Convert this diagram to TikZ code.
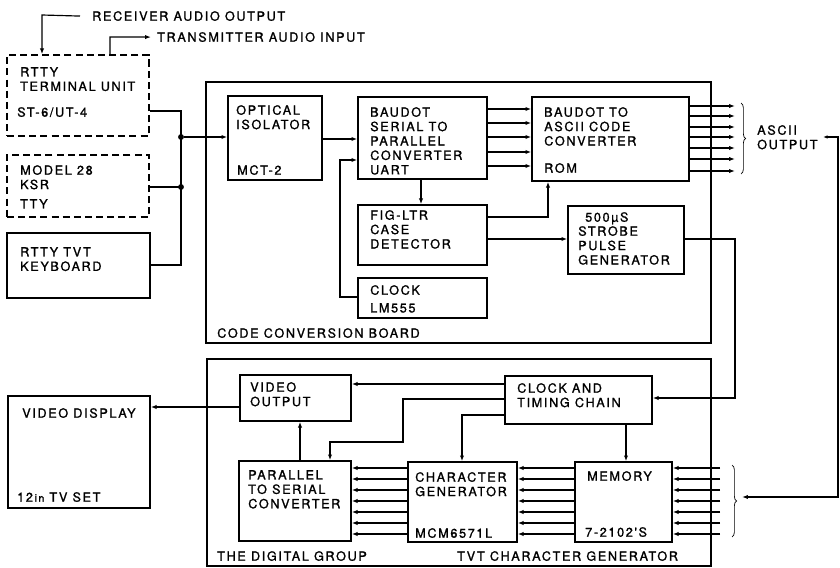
\documentclass[tikz,border=0pt]{standalone}
\usepackage{fontspec}
\newfontfamily\lettering[LetterSpace=13,FakeBold=1.2]{TeX Gyre Heros}
\usetikzlibrary{arrows.meta,fit,decorations.pathreplacing}

\begin{document}
\begin{tikzpicture}[x=0.03cm,y=-0.03cm,
    box/.style={draw=black,line width=1.1pt,inner sep=0pt},
    dbox/.style={box,dash pattern=on 6pt off 3.5pt},
    board/.style={draw=black,line width=2pt,inner sep=0pt},
    txt/.style={anchor=north west,inner sep=0pt,align=left,
                font=\lettering\fontsize{10.8}{12.3}\selectfont},
    wire/.style={line width=1pt},
    arr/.style={wire,-{Latex[length=5pt,width=3.6pt]}},
    jdot/.style={circle,fill=black,inner sep=0pt,minimum size=5pt},
    brc/.style={decorate,decoration={brace,amplitude=4pt},line width=0.6pt}]
  \useasboundingbox (0,0) rectangle (840,568);

    \node[dbox,fit={(7,55) (149,136)}] (tu) {};
    \node[dbox,fit={(7,155) (149,217)}] (m28) {};
    \node[box,fit={(7,233) (150,298)}] (kb) {};
    \node[board,fit={(206,82) (711,343)}] (ccb) {};
    \node[box,fit={(228,96) (322,180)}] (oi) {};
    \node[box,fit={(358,97) (487,179)}] (bs) {};
    \node[box,fit={(358,205) (487,265)}] (fl) {};
    \node[box,fit={(358,278) (487,318)}] (clk) {};
    \node[box,fit={(532,97) (689,181)}] (ac) {};
    \node[box,fit={(568,206) (684,274)}] (sp) {};
    \node[board,fit={(207,359) (711,566)}] (tvt) {};
    \node[box,fit={(240,375) (351,421)}] (vo) {};
    \node[box,fit={(8,396) (150,508)}] (vd) {};
    \node[box,fit={(239,461) (351,541)}] (ps) {};
    \node[box,fit={(505,376) (652,424)}] (ct) {};
    \node[box,fit={(408,462) (517,542)}] (cg) {};
    \node[box,fit={(575,462) (672,542)}] (mem) {};

    \node[txt] (rx) at (92,11) {RECEIVER AUDIO OUTPUT};
    \node[txt] (tx) at (157,32) {TRANSMITTER AUDIO INPUT};
    \node[txt] (tu-a) at (20,67) {RTTY\\TERMINAL UNIT};
    \node[txt] (tu-b) at (17,107) {ST-6/UT-4};
    \node[txt] (m28-a) at (20,165) {MODEL 28\\KSR};
    \node[txt] (m28-b) at (20,199) {TTY};
    \node[txt] (kb-a) at (20,247) {RTTY TVT\\KEYBOARD};
    \node[txt] (oi-a) at (236,105) {OPTICAL\\ISOLATOR};
    \node[txt] (oi-b) at (237,165) {MCT-2};
    \node[txt] (bs-a) at (370,107) {BAUDOT\\SERIAL TO\\PARALLEL\\CONVERTER\\UART};
    \node[txt] (fl-a) at (370,210) {FIG-LTR\\CASE\\DETECTOR};
    \node[txt] (clk-a) at (370,285) {CLOCK};
    \node[txt] (clk-b) at (370,303) {LM555};
    \node[txt] (ac-a) at (544,107) {BAUDOT TO\\ASCII CODE\\CONVERTER};
    \node[txt] (ac-b) at (544,163) {ROM};
    \node[txt] (sp-a) at (585,212) {500µS};
    \node[txt] (sp-b) at (578,226) {STROBE\\PULSE\\GENERATOR};
    \node[txt] (ccb-a) at (217,328) {CODE CONVERSION BOARD};
    \node[txt] (ao) at (757,125) {ASCII\\OUTPUT};
    \node[txt] (vo-a) at (250,382) {VIDEO\\OUTPUT};
    \node[txt] (vd-a) at (22,408) {VIDEO DISPLAY};
    \node[txt] (vd-b) at (17,492) {12{\fontsize{9}{9}\selectfont\,in} TV SET};
    \node[txt] (ps-a) at (248,470) {PARALLEL\\TO SERIAL\\CONVERTER};
    \node[txt] (ct-a) at (517,383) {CLOCK AND\\TIMING CHAIN};
    \node[txt] (cg-a) at (415,472) {CHARACTER\\GENERATOR};
    \node[txt] (cg-b) at (415,528) {MCM6571L};
    \node[txt] (mem-a) at (587,471) {MEMORY};
    \node[txt] (mem-b) at (585,527) {7-2102'S};
    \node[txt] (tvt-a) at (217,551) {THE DIGITAL GROUP};
    \node[txt] (tvt-b) at (457,551) {TVT CHARACTER GENERATOR};

    \draw[arr] ([shift={(-12,0)}]rx.west) -- (42,15) -- (tu.north -| 42,0);
    \draw[arr] (tu.north -| 110,0) -- (110,37) -- ([shift={(-6,0)}]tx.west);
    \draw[wire] (tu.east |- 0,111) -- (181,111) -- (181,265) -- (kb.east |- 0,265);
    \draw[wire] (m28.east |- 0,187) -- (181,187);
    \node[jdot] (j1) at (181,137) {};
    \node[jdot] (j2) at (181,187) {};
    \draw[arr] (j1) -- (oi.west |- j1);

    \draw[arr] (oi.east |- 0,139) -- (bs.west |- 0,139);
    \draw[arr] (clk.west |- 0,297) -- (340,297) -- (340,160) -- (bs.west |- 0,160);
    \draw[arr] (bs.south -| 421,0) -- (fl.north -| 421,0);
    \foreach \y in {109,123,137,152,166}
      \draw[arr] (bs.east |- 0,\y) -- (ac.west |- 0,\y);
    \draw[arr] (fl.east |- 0,217) -- (548,217) -- (ac.south -| 548,0);
    \draw[arr] (fl.east |- 0,239) -- (sp.west |- 0,239);
    \foreach \y in {106,116,127,137,148,159,171}
      \draw[arr] (ac.east |- 0,\y) -- (735,\y);
    \draw[brc] (741,103) -- (741,174);

    \coordinate (ao-end) at (823,137);
    \coordinate (mem-in) at (742,497);
    \draw[wire,{Latex[length=4pt,width=3pt]}-{Latex[length=5pt,width=3.6pt]}]
      (ao-end) -- (838,137) -- (838,497) -- (mem-in);
    \draw[brc] (732,465) -- (732,537);
    \foreach \y in {468,479,490,501,512,523,534} {
      \draw[arr] (720,\y) -- (mem.east |- 0,\y);
      \draw[arr] (mem.west |- 0,\y) -- (cg.east |- 0,\y);
      \draw[arr] (cg.west |- 0,\y) -- (ps.east |- 0,\y);
    }

    \draw[arr] (sp.east |- 0,239) -- (735,239) -- (735,398) -- (ct.east |- 0,398);
    \draw[arr] (ct.south -| 626,0) -- (mem.north -| 626,0);
    \draw[arr] (ct.west |- 0,384) -- (vo.east |- 0,384);
    \draw[arr] (ct.west |- 0,399) -- (403,399) -- (403,442) -- (330,442) -- (ps.north -| 330,0);
    \draw[arr] (ct.west |- 0,415) -- (462,415) -- (cg.north -| 462,0);
    \draw[arr] (ps.north -| 300,0) -- (vo.south -| 300,0);
    \draw[arr] (vo.west |- 0,407) -- (vd.east |- 0,407);
\end{tikzpicture}
\end{document}
